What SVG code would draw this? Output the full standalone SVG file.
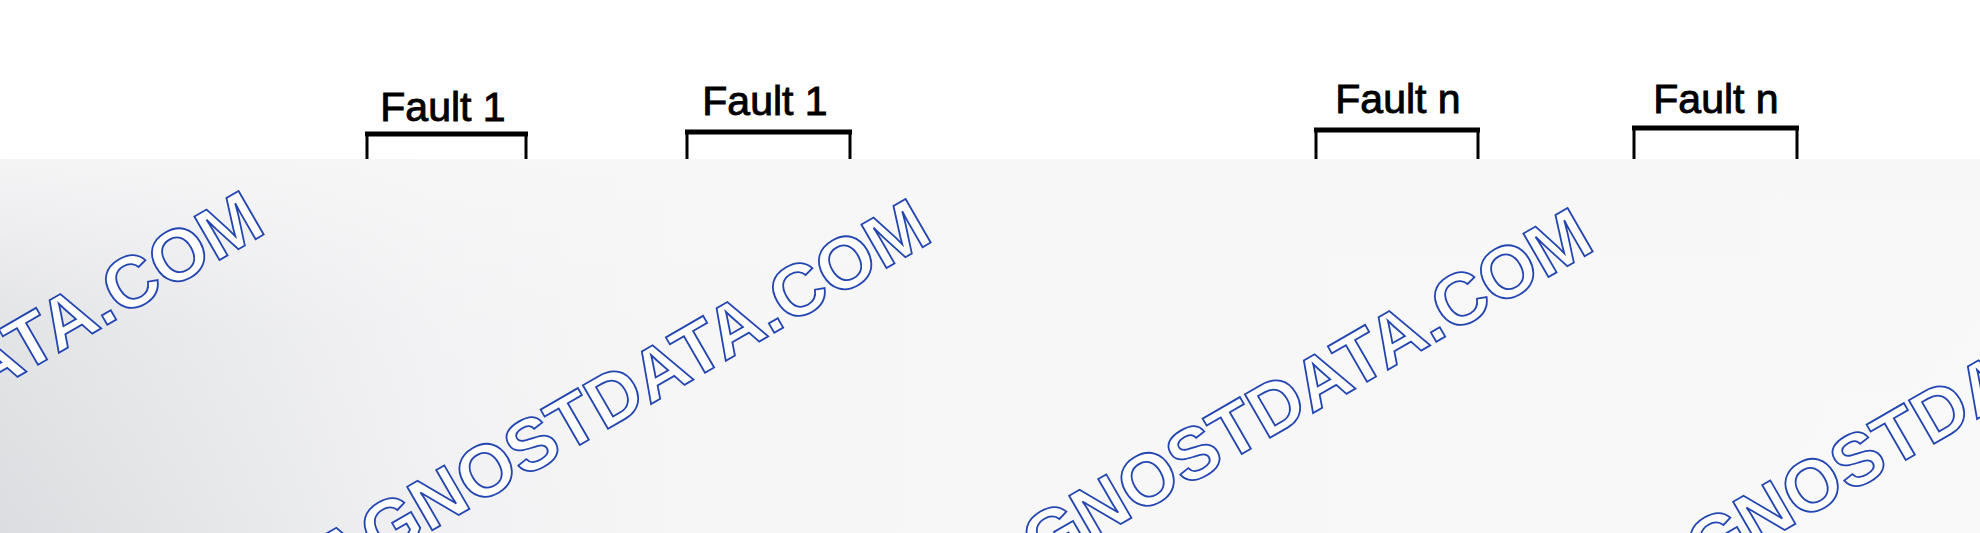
<svg xmlns="http://www.w3.org/2000/svg" width="1980" height="533" viewBox="0 0 1980 533">
<style>
.lbl{font-family:"Liberation Sans",Arial,sans-serif;font-size:41px;fill:#000;stroke:#000;stroke-width:0.9;text-anchor:middle}
.box{fill:#fff;stroke:#000;stroke-width:3}
.topbar{stroke:#000;stroke-width:5}
.wm{font-family:"Liberation Sans",Arial,sans-serif;font-weight:bold;font-size:73px;fill:#fff;stroke:#2446b0;stroke-width:1.8;text-anchor:end}
</style>
<defs>
<linearGradient id="hg" x1="0" y1="0" x2="1" y2="0">
<stop offset="0" stop-color="#dcdde0"/>
<stop offset="0.12" stop-color="#e7e8ea"/>
<stop offset="0.22" stop-color="#f1f1f3"/>
<stop offset="0.35" stop-color="#f6f6f7"/>
<stop offset="1" stop-color="#f9f9fa"/>
</linearGradient>
<linearGradient id="vg" x1="0" y1="0" x2="0" y2="1">
<stop offset="0" stop-color="#f7f7f8" stop-opacity="0.9"/>
<stop offset="0.45" stop-color="#f7f7f8" stop-opacity="0.25"/>
<stop offset="1" stop-color="#f7f7f8" stop-opacity="0"/>
</linearGradient>
</defs>
<rect width="1980" height="533" fill="#fff"/>
<g id="node-fault1-a">
<rect class="box" x="367" y="134" width="159" height="200"/>
<line class="topbar" x1="365" y1="134" x2="528" y2="134"/>
<text class="lbl" x="443" y="121" font-size="40">Fault 1</text>
</g>
<g id="node-fault1-b">
<rect class="box" x="687" y="132" width="163" height="200"/>
<line class="topbar" x1="685" y1="132" x2="852" y2="132"/>
<text class="lbl" x="765" y="115">Fault 1</text>
</g>
<g id="node-faultn-a">
<rect class="box" x="1316" y="130" width="162" height="200"/>
<line class="topbar" x1="1314" y1="130" x2="1480" y2="130"/>
<text class="lbl" x="1398" y="113">Fault n</text>
</g>
<g id="node-faultn-b">
<rect class="box" x="1634" y="128" width="163" height="200"/>
<line class="topbar" x1="1632" y1="128" x2="1799" y2="128"/>
<text class="lbl" x="1716" y="113">Fault n</text>
</g>
<g id="connectors"/>
<g id="overlay">
<rect x="0" y="159" width="1980" height="374" fill="url(#hg)"/>
<rect x="0" y="159" width="1980" height="374" fill="url(#vg)"/>
</g>
<g id="watermarks">
<text class="wm" x="268" y="232" transform="rotate(-30 268 232)">DIAGNOSTDATA.COM</text>
<text class="wm" x="935" y="240" transform="rotate(-30 935 240)">DIAGNOSTDATA.COM</text>
<text class="wm" x="1597" y="249" transform="rotate(-30 1597 249)">DIAGNOSTDATA.COM</text>
<text class="wm" x="2261" y="255" transform="rotate(-30 2261 255)">DIAGNOSTDATA.COM</text>
</g>
</svg>
